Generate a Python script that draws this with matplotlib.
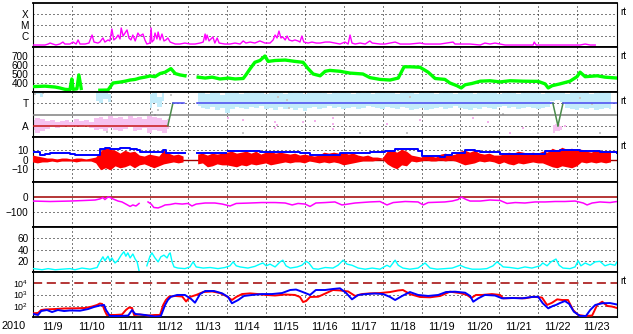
import numpy as np
import matplotlib.pyplot as plt

plt.rcParams['font.family'] = ['Liberation Sans', 'DejaVu Sans']
plt.rcParams['font.size'] = 7.2
plt.rcParams['mathtext.fontset'] = 'custom'
plt.rcParams['mathtext.rm'] = 'Liberation Sans'

nan = np.nan

# ---- data (time in days since 2010-11-09 00:00 UT) ----
days = ["11/9", "11/10", "11/11", "11/12", "11/13", "11/14", "11/15", "11/16",
        "11/17", "11/18", "11/19", "11/20", "11/21", "11/22", "11/23"]

# GOES X-ray flux, log10(W/m2)
xr_t = [0.00, 0.18, 0.31, 0.39, 0.44, 0.51, 0.59, 0.69, 0.77, 0.82, 0.95, 1.03, 1.11, 1.16, 1.21, 1.34,
        1.44, 1.52, 1.57, 1.67, 1.72, 1.80, 1.85, 1.93, 1.98, 2.03, 2.08, 2.14, 2.19, 2.24, 2.27, 2.32,
        2.37, 2.42, 2.47, 2.52, 2.57, 2.63, 2.70, 2.75, 2.83, 2.88, 2.93, 3.01, 3.04, 3.06, 3.11, 3.14,
        3.19, 3.22, 3.27, 3.32, 3.37, 3.42, 3.47, 3.53, 3.66, 3.78, 3.91, 4.04, 4.17, 4.30, 4.38, 4.43,
        4.45, 4.48, 4.53, 4.58, 4.63, 4.68, 4.74, 4.79, 4.94, 5.07, 5.20, 5.33, 5.41, 5.48, 5.59, 5.71,
        5.84, 5.97, 6.10, 6.18, 6.23, 6.28, 6.33, 6.38, 6.43, 6.49, 6.54, 6.59, 6.67, 6.74, 6.82, 6.87,
        6.92, 6.97, 7.08, 7.18, 7.29, 7.39, 7.52, 7.64, 7.90, 8.03, 8.11, 8.16, 8.21, 8.29, 8.42, 8.55,
        8.67, 8.73, 8.93, 9.06, 9.19, 9.32, 9.45, 9.70, 9.96, 10.09, 10.22, 10.48, 10.81, 10.86, 10.99,
        11.25, 11.51, 11.63, 11.76, 11.89, 12.02, 12.15, 12.54, 12.87, 12.90, 12.95, 13.18, 13.56,
        14.08, 14.21, 14.34, 14.47]
xr_log = [-6.82, -6.82, -6.82, -6.73, -6.64, -6.73, -6.82, -6.73, -6.55, -6.73, -6.73, -6.55, -6.73,
          -6.36, -6.73, -6.73, -6.64, -5.91, -6.55, -6.64, -6.55, -6.18, -6.55, -6.36, -6.45, -5.36,
          -6.36, -6.18, -5.91, -6.27, -5.27, -6.00, -5.73, -5.45, -6.18, -6.36, -5.91, -6.45, -5.73,
          -6.00, -5.82, -6.36, -6.73, -6.64, -5.27, -6.55, -6.36, -5.73, -6.27, -5.64, -6.36, -5.82,
          -6.45, -6.36, -6.18, -6.55, -6.73, -6.73, -6.64, -6.73, -6.73, -6.64, -6.55, -5.82, -6.36,
          -5.91, -6.45, -6.27, -6.09, -6.64, -6.18, -6.64, -6.73, -6.73, -6.64, -6.73, -6.45, -6.64,
          -6.55, -6.64, -6.45, -6.64, -6.64, -6.36, -5.91, -6.18, -5.55, -6.18, -6.09, -6.36, -6.00,
          -6.36, -6.45, -6.36, -6.45, -6.55, -6.00, -6.55, -6.64, -6.55, -6.64, -6.64, -6.55, -6.55,
          -6.73, -6.55, -6.73, -5.91, -6.64, -6.73, -6.64, -6.73, -6.45, -6.64, -6.73, -6.73, -6.64,
          -6.55, -6.73, -6.73, -6.64, -6.73, -6.73, -6.73, -6.55, -6.73, -6.73, -6.73, -6.82, -6.64,
          -6.73, -6.64, -6.73, -6.82, -6.82, -6.82, -6.55, -6.82, -6.82, -6.82, -6.82, -6.73, -6.82,
          -6.82]

# solar wind speed (km/s)
sw_t = [0.00, 0.31, 0.57, 0.69, 0.82, 0.95, 1.00, 1.03, 1.13, 1.18, 1.24, 1.26, 1.72, 1.93, 2.06,
        2.24, 2.37, 2.50, 2.63, 2.75, 2.88, 3.01, 3.14, 3.27, 3.40, 3.55, 3.66, 3.78, 3.91, 3.93,
        4.25, 4.43, 4.61, 4.81, 4.94, 4.96, 5.02, 5.20, 5.41, 5.48, 5.59, 5.71, 5.84, 5.97, 6.05,
        6.23, 6.49, 6.74, 6.95, 7.08, 7.21, 7.39, 7.52, 7.64, 7.90, 8.16, 8.49, 8.67, 8.93, 9.19,
        9.40, 9.55, 9.70, 9.96, 10.17, 10.35, 10.60, 10.73, 10.91, 11.02, 11.12, 11.30, 11.51,
        11.76, 12.02, 12.28, 12.61, 13.00, 13.18, 13.26, 13.36, 13.56, 13.82, 14.00, 14.08, 14.21,
        14.52, 14.72, 15.03]
sw_v = [360, 365, 355, 345, 330, 325, 445, 330, 335, 490, 340, nan, 320, 322, 400,
        410, 420, 433, 440, 455, 465, 478, 470, 505, 520, 560, 505, 490, 480, nan,
        465, 455, 465, 445, 450, nan, 455, 445, 450, 490, 560, 630, 650, 700, 640,
        650, 655, 640, 630, 560, 500, 480, 530, 540, 530, 510, 500, 460, 440, 433,
        455, 580, 580, 575, 520, 450, 440, 400, 370, 345, 380, 395, 420,
        425, 412, 425, 420, 418, 390, 345, 370, 390, 420, 470, 520, 470,
        480, 465, 455]

# magnetic field: sector polarity (T/A) and scattered pitch-angle points
sec_t = [0.00, 3.47, 3.60, 3.88, 3.89, 4.22, 13.38, 13.51, 13.64, 15.03]
sec_v = [1, 1, 3, 3, nan, 3, 3, 1, 3, 3]

grid_t = np.arange(120) * 0.125  # 3-hour samples
lb_hi = ([4.0, 3.9, 4.0] + [nan] * 10 + [4.0, 3.9, 4.0, 3.8] + [nan] * 7 + [3.8, 3.9, 3.6, 3.9] + [nan] * 6 +
         [3.9, 4.0, 3.8, 4.0, 3.9, 3.7, 4.0, 3.9, 4.0, 3.8, 4.0, 3.9, 4.0, 4.0, 3.8, 3.9, 4.0, 3.9, 3.8, 4.0,
          3.9, 4.0, 3.8, 3.9, 4.0, 4.0, 3.9, 3.8, 4.0, 3.9, 4.0, 3.9, 3.8, 4.0, 3.9, 4.0, 3.8, 3.9, 4.0, 3.9,
          4.0, 3.8, 3.9, 4.0, 3.9, 3.8, 4.0, 3.9, 4.0, 3.8, 3.9, 4.0, 3.9, 3.8, 4.0, 3.9, 4.0, 3.8, 3.9, 4.0,
          3.9, 4.0, 3.8, 3.9, 4.0, 3.9, 3.8, 4.0, 3.9, 4.0, 3.9, 3.8, 4.0, 3.9, 3.9, 4.0, 3.8, 3.9, 4.0, 3.9,
          4.0, 3.8, 3.9, 4.0, 3.9, 4.0])
lb_lo = ([3.7, 3.8, 3.6] + [nan] * 10 + [3.2, 3.0, 3.4, 3.1] + [nan] * 7 + [2.6, 3.0, 2.7, 3.2] + [nan] * 6 +
         [2.8, 2.6, 2.5, 2.7, 2.4, 2.6, 2.1, 2.5, 2.7, 2.6, 2.5, 2.7, 2.6, 2.8, 2.5, 2.6, 2.4, 2.7, 2.5, 2.6,
          2.4, 2.6, 2.3, 2.6, 2.7, 2.5, 2.6, 2.8, 2.6, 2.7, 2.5, 2.6, 2.7, 2.5, 2.6, 2.8, 2.7, 2.6, 2.5, 2.7,
          2.6, 2.5, 2.7, 2.6, 2.4, 2.5, 2.6, 2.4, 2.5, 2.6, 2.7, 2.5, 2.6, 2.8, 2.6, 2.5, 2.4, 2.6, 2.5, 2.7,
          2.6, 2.5, 2.7, 2.8, 2.6, 2.7, 2.5, 2.6, 2.7, 2.6, 2.5, 2.6, 2.7, 3.2, 3.3, 3.1, 2.6, 2.5, 2.4, 2.6,
          2.5, 2.6, 2.4, 2.5, 2.6, 2.5])
pk_hi = ([1.5, 1.7, 1.6, 1.4, 1.5, 1.3, 1.4, 1.5, 1.3, 1.6, 1.4, 1.5, 1.3, 1.7, 1.8, 1.6, 1.9, 1.7, 1.8,
          1.6, 1.9, 1.7, 1.8, 1.6, 1.9, 1.8, 1.7, 1.5, 1.6] + [nan] * 78 + [1.1, 1.2, 1.0] + [nan] * 10)
pk_lo = ([0.6, 0.4, 0.5, 0.7, 0.9, 0.8, 0.9, 1.0, 0.9, 1.0, 0.9, 1.1, 0.8, 0.6, 0.7, 0.5, 0.8, 0.6, 0.5,
          0.7, 0.9, 0.5, 0.6, 0.8, 0.4, 0.6, 0.5, 0.4, 0.7] + [nan] * 78 + [0.4, 0.5, 0.6] + [nan] * 10)
pkdot_t = [5.02, 5.41, 6.23, 6.23, 6.28, 6.95, 7.26, 7.72, 7.72, 7.72, 9.11, 9.96, 11.33, 11.71, 12.28,
           12.61, 13.69]
pkdot_v = [1.7, 1.5, 1.3, 0.8, 1.1, 1.3, 1.4, 1.7, 1.2, 0.7, 1.2, 1.5, 1.7, 1.3, 0.4, 0.8, 1.0]
gydot_t = [0.05, 0.26, 1.90, 3.06, 3.14, 3.22, 3.55, 5.41, 6.31, 6.54, 6.59, 8.42, 9.63, 9.70, 12.10,
           13.00, 14.08, 14.39, 14.59]
gydot_v = [3.8, 3.9, 0.45, 2.2, 2.0, 2.4, 3.7, 0.35, 3.6, 3.3, 2.6, 0.35, 0.35, 3.6, 2.05, 0.35, 3.5,
           2.9, 0.35]

# IMF Bt (blue) and Bz range per 3 h (red), nT
bt_t = [0.00, 0.13, 0.18, 0.31, 0.44, 0.69, 0.95, 1.08, 1.47, 1.70, 1.72, 1.85, 1.98, 2.24, 2.50, 2.68,
        2.75, 3.01, 3.27, 3.35, 3.42, 3.66, 3.89, 3.90, 4.22, 4.56, 4.94, 4.96, 5.02, 5.46, 5.84, 6.36,
        6.87, 7.13, 7.64, 7.90, 8.67, 9.06, 9.32, 9.70, 9.91, 10.01, 10.48, 10.60, 10.79, 11.12, 11.38,
        11.51, 12.02, 13.05, 13.18, 13.56, 14.08, 14.59, 15.03]
bt_v = [8, 8, 5, 6, 7, 7, 6, 5, 5, 5, 11, 12, 11, 12, 11, 10,
        8, 8, 8, 10, 7, 7, 7, nan, 7, 7, 7, nan, 9, 9, 8, 8,
        7, 5, 5, 7, 8, 9, 11, 11, 9, 4, 3, 5, 7, 10, 9,
        8, 6, 6, 9, 10, 9, 8, 7]
bz_hi = [4, 3, 2, 1, 1, 0, 1, 1, 0, 1, 1, 0, 1, 2, 8, 12, 10, 9, 6, 9, 7, 8, 4, 3, 5, 4, 3, 9, 6, 4,
         5, 3, nan, nan, 5, 6, 4, 6, 5, 6, 7, 8, 6, 7, 8, 6, 8, 5, 7, 8, 6, 7, 6, 5, 6, 4, 5, 4, 3, 4,
         7, 6, 7, 6, 7, 5, 6, 4, 3, 4, 2, 2, 1, 8, 9, 7, 10, 8, 4, 3, 2, 4, 3, 2, 5, 6, 4, 5, 8, 9,
         7, 9, 6, 5, 6, 4, 4, 5, 7, 6, 8, 7, 6, 7, 6, 8, 7, 11, 9, 12, 10, 11, 9, 10, 8, 7, 9, 8, 9, 7]
bz_lo = [-3, -4, -3, -3, -2, -3, -2, -2, -2, -3, -2, -2, -2, -4, -11, -9, -11, -7, -9, -8, -6, -9, -6,
         -5, -7, -9, -7, -5, -4, -3, -4, -3, nan, nan, -5, -4, -8, -7, -5, -6, -6, -7, -8, -6, -7, -5,
         -6, -5, -4, -6, -5, -4, -3, -4, -3, -3, -4, -2, -3, -4, -3, -4, -3, -4, -6, -5, -4, -3, -2, -2,
         -2, -1, 0, -5, -8, -10, -6, -7, -2, -3, -2, -1, -2, -2, -1, -2, -1, -2, -4, -6, -5, -4, -2, -3,
         -2, -3, -5, -3, -5, -6, -4, -5, -4, -3, -4, -4, -6, -8, -9, -7, -8, -9, -7, -3, -4, -3, -4, -3,
         -4, -3]

# Dst index (nT)
dst_t = [0.00, 0.44, 0.95, 1.34, 1.60, 1.72, 1.80, 1.85, 1.93, 1.98, 2.06, 2.19, 2.29, 2.39, 2.50,
         2.57, 2.65, 2.73, 2.75, 2.96, 3.04, 3.11, 3.22, 3.32, 3.40, 3.53, 3.66, 3.84, 3.99, 4.09,
         4.20, 4.43, 4.68, 4.87, 5.07, 5.23, 5.59, 5.89, 6.23, 6.49, 6.67, 6.82, 7.00, 7.13, 7.28,
         7.52, 7.77, 7.95, 8.11, 8.29, 8.67, 8.93, 9.11, 9.27, 9.58, 9.91, 10.04, 10.17, 10.60,
         10.79, 10.94, 11.02, 11.15, 11.25, 11.51, 11.76, 12.02, 12.20, 12.41, 12.66, 12.92, 13.18,
         13.44, 13.69, 13.95, 14.16, 14.26, 14.39, 14.59, 14.85, 15.03]
dst_v = [-27, -30, -27, -23, -20, -13, -3, -17, 0, -3, -13, -27, -33, -47, -63,
         -53, -60, -43, nan, -33, -47, -70, -73, -63, -53, -50, -43, -47, -43, -60,
         -47, -40, -40, -47, -60, -43, -40, -37, -37, -40, -53, -43, -47, -63, -40,
         -37, -33, -53, -47, -40, -33, -30, -53, -37, -30, -33, -53, -37, -33,
         -27, -17, 0, -17, -27, -27, -20, -23, -43, -37, -40, -33, -33,
         -30, -30, -27, -40, -53, -40, -33, -37, -30]

# cyan index
ap_t = [0.00, 0.13, 0.23, 0.39, 0.57, 0.75, 0.95, 1.08, 1.26, 1.47, 1.65, 1.72, 1.80, 1.85, 1.93, 1.98,
        2.03, 2.11, 2.19, 2.27, 2.34, 2.39, 2.44, 2.50, 2.57, 2.63, 2.68, 2.73, 2.75, 2.93, 3.01, 3.06,
        3.14, 3.22, 3.29, 3.37, 3.45, 3.50, 3.53, 3.58, 3.63, 3.73, 3.91, 4.04, 4.12, 4.20, 4.38, 4.56,
        4.76, 4.94, 5.07, 5.15, 5.23, 5.33, 5.53, 5.71, 5.84, 5.92, 6.00, 6.10, 6.23, 6.36, 6.43, 6.51,
        6.62, 6.80, 6.92, 7.03, 7.10, 7.21, 7.34, 7.52, 7.72, 7.85, 7.98, 8.08, 8.21, 8.37, 8.55, 8.73,
        8.93, 9.11, 9.19, 9.32, 9.40, 9.52, 9.70, 9.91, 10.09, 10.22, 10.40, 10.60, 10.79, 10.99,
        11.12, 11.30, 11.51, 11.68, 11.84, 11.94, 12.02, 12.10, 12.28, 12.48, 12.66, 12.84, 13.05,
        13.12, 13.23, 13.33, 13.46, 13.54, 13.64, 13.82, 13.95, 14.03, 14.10, 14.21, 14.34, 14.47,
        14.59, 14.72, 14.85, 14.98, 15.03]
ap_v = [6, 5, 4, 6, 4, 5, 6, 4, 7, 5, 8, 18, 27, 20, 28, 20,
        25, 16, 21, 30, 36, 28, 34, 25, 32, 23, 18, 2, nan, 11, 28, 34,
        25, 18, 27, 30, 25, 32, 34, 18, 9, 7, 6, 9, 18, 9, 7, 8,
        6, 8, 11, 18, 11, 9, 7, 10, 14, 16, 11, 14, 9, 18, 21, 11,
        7, 9, 12, 19, 16, 6, 5, 8, 7, 12, 21, 14, 12, 7, 5, 7,
        5, 12, 9, 21, 12, 7, 5, 7, 16, 7, 5, 6, 7, 12,
        8, 5, 5, 6, 11, 18, 14, 9, 8, 6, 9, 7, 11,
        16, 11, 18, 23, 12, 7, 6, 9, 20, 11, 16, 12, 18,
        19, 11, 14, 12, 18]

# >2 MeV electron flux, log10 (two satellites)
er_t = [0.00, 0.13, 0.21, 0.31, 0.57, 0.82, 1.08, 1.34, 1.52, 1.65, 1.72, 1.78, 1.85, 1.90, 2.11, 2.29,
        2.39, 2.47, 2.55, 2.60, 2.75, 2.96, 3.14, 3.27, 3.35, 3.42, 3.50, 3.66, 3.84, 3.94, 4.04, 4.20,
        4.38, 4.61, 4.81, 4.97, 5.12, 5.23, 5.38, 5.59, 5.79, 6.00, 6.23, 6.49, 6.74, 6.87, 6.95, 7.03,
        7.13, 7.34, 7.55, 7.72, 7.90, 8.11, 8.29, 8.47, 8.67, 8.93, 9.19, 9.40, 9.52, 9.70, 9.96, 10.22,
        10.48, 10.73, 10.99, 11.17, 11.28, 11.40, 11.56, 11.81, 12.02, 12.10, 12.41, 12.66, 12.87,
        13.10, 13.23, 13.36, 13.49, 13.62, 13.77, 13.90, 14.03, 14.21, 14.39, 14.52, 14.65, 14.78,
        14.90, 15.03]
er_log = [1.33, 1.36, 1.62, 1.67, 1.71, 1.76, 1.77, 1.80, 1.93, 2.07, 2.20, 2.16, 1.53, 1.18, 1.18, 1.22,
          1.62, 1.84, 1.80, 1.18, 1.22, 1.13, 1.18, 1.18, 2.07, 2.51, 2.80, 2.87, 2.82, 2.38, 2.78, 2.96,
          3.22, 3.27, 3.13, 2.87, 2.51, 2.78, 3.04, 3.10, 3.04, 2.96, 2.91, 3.00, 2.96, 2.78, 2.33, 2.42,
          2.78, 2.80, 3.13, 3.40, 3.36, 3.27, 2.87, 3.04, 3.10, 3.13, 3.22, 3.36, 3.40, 3.04, 2.78, 2.75,
          2.87, 3.25, 3.13, 2.96, 2.69, 2.96, 2.96, 3.04, 2.96, 2.66, 2.69, 2.66, 2.80,
          2.73, 2.07, 2.27, 2.57, 2.51, 2.51, 1.62, 1.18, 1.09, 1.13, 2.07, 2.36, 1.98,
          1.93, 1.80]
eb_t = [0.00, 0.13, 0.21, 0.36, 0.49, 0.64, 0.80, 0.95, 1.21, 1.42, 1.57, 1.72, 1.83, 1.88, 1.98, 2.24,
        2.45, 2.55, 2.63, 2.88, 3.14, 3.29, 3.40, 3.47, 3.55, 3.71, 3.91, 4.07, 4.17, 4.30, 4.43, 4.66,
        4.87, 5.02, 5.12, 5.28, 5.43, 5.64, 5.89, 6.15, 6.41, 6.62, 6.77, 6.92, 7.13, 7.28, 7.52, 7.72,
        7.90, 8.06, 8.21, 8.37, 8.57, 8.80, 9.01, 9.19, 9.32, 9.50, 9.70, 9.91, 10.17, 10.43, 10.63,
        10.86, 11.12, 11.25, 11.33, 11.46, 11.63, 11.89, 12.07, 12.33, 12.59, 12.84, 13.00, 13.12,
        13.26, 13.38, 13.46, 13.56, 13.69, 13.80, 13.92, 14.08, 14.23, 14.34, 14.47, 14.65, 14.85,
        15.03]
eb_log = [1.27, 1.18, 1.53, 1.62, 1.44, 1.62, 1.53, 1.58, 1.56, 1.71, 1.89, 2.02, 2.07, 1.62, 1.09, 1.09,
          1.13, 1.62, 1.27, 1.18, 1.04, 1.09, 2.07, 2.51, 2.80, 2.96, 2.96, 2.60, 2.27, 3.04, 3.31, 3.31,
          3.10, 2.78, 2.22, 2.51, 2.87, 2.96, 3.04, 3.04, 3.13, 3.40, 3.44, 3.25, 2.96, 3.40, 3.40, 3.49,
          3.55, 3.13, 2.57, 2.96, 3.04, 3.09, 3.04, 2.78, 2.51, 2.87, 3.22, 2.96, 2.87, 2.96, 3.22,
          3.25, 3.16, 2.87, 2.36, 2.66, 2.96, 2.91, 2.66, 2.69, 2.66, 2.78, 2.80, 2.22,
          1.77, 1.98, 2.07, 2.24, 2.42, 2.16, 1.47, 1.09, 1.09, 1.62, 2.07, 2.22, 2.24,
          2.11]

# ---- layout: panel edges in pixels from top ----
W, H = 633, 334
edges = [3, 47, 92, 137, 182, 227, 272, 317]
x0, x1 = 33, 617
t_end = 15.03
darkred = '#a00000'
dotted = dict(color='black', lw=0.72, ls=(0, (1, 3)))

fig = plt.figure(figsize=(W / 100, H / 100), dpi=100)
axes = []
for k in range(7):
    ax = fig.add_axes([x0 / W, 1 - edges[k + 1] / H, (x1 - x0) / W, (edges[k + 1] - edges[k]) / H])
    ax.set_xlim(0, t_end)
    ax.set_xticks([])
    ax.tick_params(axis='y', length=0, pad=3.2)
    for s in ['top', 'bottom']:
        ax.spines[s].set_linewidth(1.3)
    for s in ['left', 'right']:
        ax.spines[s].set_linewidth(0.8)
    for d in range(1, 15):
        ax.axvline(d, **dotted, zorder=1)
    axes.append(ax)
a1, a2, a3, a4, a5, a6, a7 = axes


def band(ax, lo, hi, color, z, step='mid'):
    lo = np.array(lo, dtype=float)
    hi = np.array(hi, dtype=float)
    ax.fill_between(grid_t, lo, hi, where=~np.isnan(hi), step=step, color=color, lw=0, zorder=z)


# panel 1: X-ray
a1.set_yscale('log')
a1.set_ylim(1e-7, 1e-3)
for v in [1e-6, 1e-5, 1e-4]:
    a1.axhline(v, **dotted)
a1.plot(xr_t, 10 ** np.array(xr_log), color='#ff00ff', lw=1.0, zorder=3)
a1.set_yticks([1e-6, 1e-5, 1e-4], labels=['C', 'M', 'X'])
a1.yaxis.set_minor_locator(plt.NullLocator())

# panel 2: solar wind
a2.set_ylim(300, 800)
for v in [400, 500, 600, 700]:
    a2.axhline(v, **dotted)
a2.plot(sw_t, sw_v, color='#00ff00', lw=2.4, zorder=3)
a2.set_yticks([400, 500, 600, 700])

# panel 3: T/A
a3.set_ylim(0, 4)
for v in [1, 3]:
    a3.axhline(v, **dotted)
band(a3, lb_lo, lb_hi, '#c2ecfa', 2)
band(a3, pk_lo, pk_hi, '#f6c2f0', 2)
a3.scatter(pkdot_t, pkdot_v, s=3, marker='s', color='#f4b0ec', lw=0, zorder=2)
a3.scatter(gydot_t, gydot_v, s=3, marker='s', color='#c8c8c8', lw=0, zorder=2)
a3.axhline(2, color='#808080', lw=1.1, zorder=3)
for i in range(len(sec_t) - 1):
    va, vb = sec_v[i], sec_v[i + 1]
    if np.isnan(va) or np.isnan(vb):
        continue
    c = '#4848f0' if va == vb == 3 else ('#c81818' if va == vb == 1 else '#4a8a4a')
    a3.plot(sec_t[i:i + 2], sec_v[i:i + 2], color=c, lw=1.1, zorder=4)
a3.set_yticks([1, 3], labels=['A', 'T'])

# panel 4: IMF
a4.set_ylim(-23, 23)
for v in [10, -10]:
    a4.axhline(v, **dotted)
a4.axhline(0, color=darkred, lw=1.0, zorder=2)
band(a4, bz_lo, bz_hi, '#ff0000', 3, step=None)
a4.plot(bt_t, bt_v, color='#0000ff', lw=1.4, drawstyle='steps-post', zorder=4)
a4.set_yticks([-10, 0, 10])

# panel 5: Dst
a5.set_ylim(-200, 100)
a5.axhline(-100, **dotted)
a5.axhline(0, color=darkred, lw=1.1, zorder=2)
a5.plot(dst_t, dst_v, color='#ff00ff', lw=1.1, zorder=3)
a5.set_yticks([-100, 0])

# panel 6: cyan index
a6.set_ylim(0, 80)
for v in [20, 40, 60]:
    a6.axhline(v, **dotted)
a6.plot(ap_t, ap_v, color='#00ffff', lw=1.0, zorder=3)
a6.set_yticks([20, 40, 60])

# panel 7: electron flux
a7.set_yscale('log')
a7.set_ylim(10, 1e5)
for v in [1e2, 1e3]:
    a7.axhline(v, **dotted)
a7.axhline(1e4, color=darkred, lw=1.1, ls=(0, (6, 3)), zorder=2)
a7.plot(er_t, 10 ** np.array(er_log), color='#ff0000', lw=1.4, zorder=3)
a7.plot(eb_t, 10 ** np.array(eb_log), color='#0000ff', lw=1.4, zorder=4)
a7.set_yticks([1e2, 1e3, 1e4], labels=['$10^2$', '$10^3$', '$10^4$'])
a7.tick_params(axis='y', labelsize=6.4)
a7.yaxis.set_minor_locator(plt.NullLocator())
a7.set_xticks(np.arange(15) + 0.5, labels=days)
a7.tick_params(axis='x', length=0, pad=3.5, labelsize=7.8)

for ax in [a1, a2, a3, a4, a7]:
    ax.annotate('rt', xy=(1, 1), xycoords='axes fraction', xytext=(3, -9),
                textcoords='offset pixels', va='center', ha='left', fontsize=7.2)

fig.text(14 / W, 1 - 326 / H, '2010', ha='center', va='center', fontsize=7.8)

fig.savefig('out.png', dpi=100)
